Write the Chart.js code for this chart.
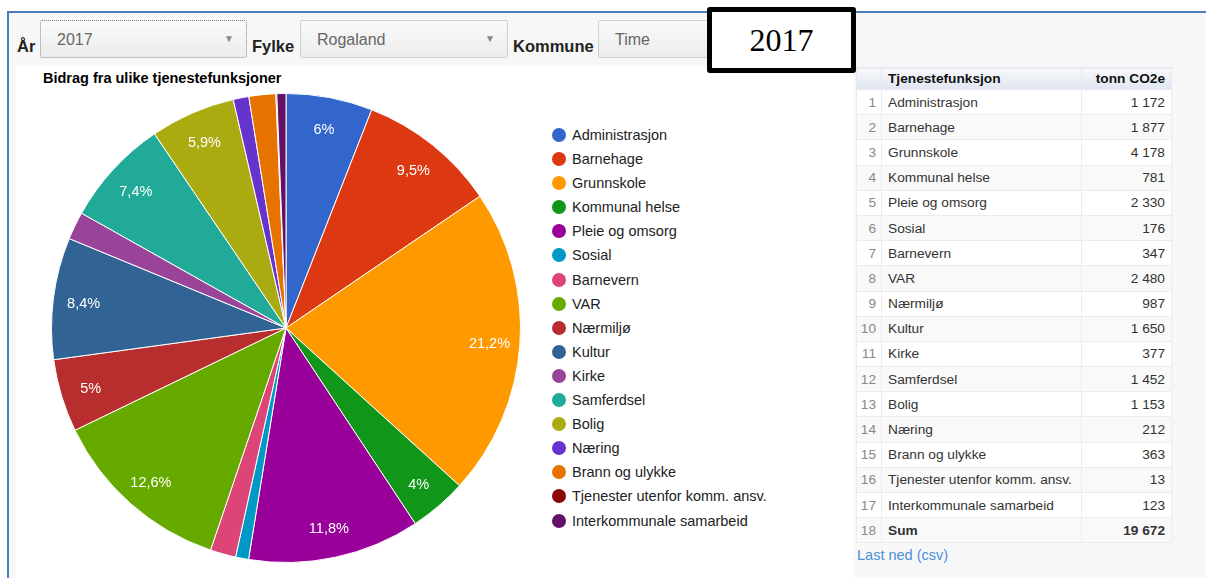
<!DOCTYPE html>
<html>
<head>
<meta charset="utf-8">
<script src="https://cdn.jsdelivr.net/npm/chart.js@4"></script>
<style>
    body {
        margin: 0;
        width: 1206px;
        height: 578px;
        overflow: hidden;
        background: #fff;
        position: relative;
        font-family: Arial, "Liberation Sans", sans-serif;
    }
    .abs { position: absolute; }
    .frame {
        left: 7px; top: 11px; width: 1197px; height: 565px;
        border-top: 2px solid #4a7ebb;
        border-left: 2px solid #4a7ebb;
        background: #f7f7f7;
    }
    .panel { left: 16px; top: 66px; width: 838px; height: 512px; background: #fff; }
    .lbl { font-weight: bold; font-size: 16.5px; color: #222; top: 37px; }
    .dd {
        top: 20px; height: 38px; box-sizing: border-box;
        border: 1px solid #d0d0d0; border-radius: 2px;
        background: linear-gradient(#fafafa, #ececec);
        color: #666; font-size: 16px; line-height: 38px; padding-left: 16px;
    }
    .dd.focus { border: 1px dotted #888; }
    .dd .arr { position: absolute; right: 12px; top: 0; font-size: 10px; color: #888; line-height: 36px; }
    .yearbox {
        left: 707px; top: 7px; width: 149px; height: 66px; box-sizing: border-box;
        border: 5px solid #000; border-radius: 3px; background: #fff;
        font-family: "Liberation Serif", "Times New Roman", serif; font-size: 32px;
        text-align: center; line-height: 56px; color: #000;
    }
    .title { left: 43px; top: 70px; font-weight: bold; font-size: 14.5px; color: #000; }
    #pie { left: 50px; top: 92px; }
    .legend { left: 552px; top: 123px; font-size: 14.5px; color: #222; }
    .legend .item { height: 24.1px; line-height: 24px; white-space: nowrap; }
    .legend .dot { display: inline-block; width: 14px; height: 14px; border-radius: 50%; vertical-align: -2px; margin-right: 6px; }
    table.tbl {
        left: 856px; top: 67px; border-collapse: collapse; table-layout: fixed;
        font-size: 13.7px; color: #333; background: #fff;
    }
    .tbl td, .tbl th { padding: 0 6px; border: 1px solid #ececec; white-space: nowrap; overflow: hidden; }
    .tbl td { height: 24.2px; }
    .tbl th { height: 21px; font-weight: bold; color: #111; background: linear-gradient(#f8f9fc, #dfe5f1); border-color: #e6e9ef; }
    .tbl th.name, .tbl td.name { text-align: left; }
    .tbl th.val, .tbl td.val { text-align: right; }
    .tbl td.num { text-align: right; color: #888; padding: 0 5px 0 0; }
    .tbl tr.alt td { background: #f9f9f9; }
    .tbl tr.sum td { font-weight: bold; }
    .link { left: 857px; top: 547px; font-size: 14.5px; color: #4d90d6; }
</style>
</head>
<body>
<div class="abs frame"></div>
<div class="abs panel"></div>

<div class="abs lbl" style="left:17px">År</div>
<div class="abs dd focus" style="left:40px;width:207px">2017<span class="arr">▼</span></div>
<div class="abs lbl" style="left:252px">Fylke</div>
<div class="abs dd" style="left:300px;width:208px">Rogaland<span class="arr">▼</span></div>
<div class="abs lbl" style="left:513px">Kommune</div>
<div class="abs dd" style="left:598px;width:200px">Time<span class="arr">▼</span></div>
<div class="abs yearbox">2017</div>

<div class="abs title">Bidrag fra ulike tjenestefunksjoner</div>
<canvas id="pie" class="abs" width="472" height="472"></canvas>
<div id="legend" class="abs legend"></div>

<table id="tbl" class="abs tbl">
    <colgroup><col style="width:25px"><col style="width:200px"><col style="width:90px"></colgroup>
    <thead><tr><th></th><th class="name">Tjenestefunksjon</th><th class="val">tonn CO2e</th></tr></thead>
    <tbody></tbody>
</table>
<div class="abs link">Last ned (csv)</div>

<script>
// Tjenestefunksjoner (same order in pie, legend and table)
const labels = [
    "Administrasjon", "Barnehage", "Grunnskole", "Kommunal helse", "Pleie og omsorg",
    "Sosial", "Barnevern", "VAR", "Nærmiljø", "Kultur", "Kirke", "Samferdsel",
    "Bolig", "Næring", "Brann og ulykke", "Tjenester utenfor komm. ansv.",
    "Interkommunale samarbeid"
];

// tonn CO2e
const values = [1172, 1877, 4178, 781, 2330, 176, 347, 2480, 987, 1650, 377, 1452, 1153, 212, 363, 13, 123];

// Sum as shown in the table
const sumLabel = "Sum";
const sumValue = 19672;

const colors = [
    "#3366cc", "#dc3912", "#ff9900", "#109618", "#990099", "#0099c6", "#dd4477",
    "#66aa00", "#b82e2e", "#316395", "#994499", "#22aa99", "#aaaa11", "#6633cc",
    "#e67300", "#8b0707", "#651067"
];

// "1172" -> "1 172"
function fmtNumber(n) {
    return String(n).replace(/\B(?=(\d{3})+(?!\d))/g, " ");
}

// 5.96 -> "6%", 9.54 -> "9,5%"
function fmtPercent(p) {
    return p.toFixed(1).replace(/\.0$/, "").replace(".", ",") + "%";
}

/* -------------------------------
   Legend
---------------------------------*/
const legend = document.getElementById("legend");
labels.forEach((name, i) => {
    const item = document.createElement("div");
    item.className = "item";
    item.innerHTML = `<span class="dot" style="background:${colors[i]}"></span>${name}`;
    legend.appendChild(item);
});

/* -------------------------------
   Table
---------------------------------*/
const tbody = document.querySelector("#tbl tbody");
labels.forEach((name, i) => {
    const tr = document.createElement("tr");
    if (i % 2 === 1) tr.className = "alt";
    tr.innerHTML = `<td class="num">${i + 1}</td><td class="name">${name}</td><td class="val">${fmtNumber(values[i])}</td>`;
    tbody.appendChild(tr);
});
const sumRow = document.createElement("tr");
sumRow.className = "sum" + (labels.length % 2 === 1 ? " alt" : "");
sumRow.innerHTML = `<td class="num" style="font-weight:normal">${labels.length + 1}</td><td class="name">${sumLabel}</td><td class="val">${fmtNumber(sumValue)}</td>`;
tbody.appendChild(sumRow);

/* -------------------------------
   Pie chart with percent labels in slices
---------------------------------*/
const percentLabels = {
    id: "percentLabels",
    afterDatasetsDraw(chart) {
        const ctx = chart.ctx;
        const meta = chart.getDatasetMeta(0);
        const total = values.reduce((a, b) => a + b, 0);
        ctx.save();
        ctx.font = '14.5px Arial, "Liberation Sans", sans-serif';
        ctx.fillStyle = "#fff";
        ctx.textAlign = "center";
        ctx.textBaseline = "middle";
        meta.data.forEach((arc, i) => {
            const pct = values[i] / total * 100;
            if (pct < 3) return; // small slices get no label
            const p = arc.getProps(["x", "y", "startAngle", "endAngle", "outerRadius"], true);
            const mid = (p.startAngle + p.endAngle) / 2;
            const r = p.outerRadius * 0.87;
            ctx.fillText(fmtPercent(pct), p.x + Math.cos(mid) * r, p.y + Math.sin(mid) * r + 2);
        });
        ctx.restore();
    }
};

new Chart(document.getElementById("pie").getContext("2d"), {
    type: "pie",
    data: {
        labels,
        datasets: [{
            data: values,
            backgroundColor: colors,
            borderColor: "#fff",
            borderWidth: 1
        }]
    },
    options: {
        responsive: false,
        animation: false,
        layout: { padding: 1 },
        plugins: {
            legend: { display: false },
            tooltip: { enabled: false }
        }
    },
    plugins: [percentLabels]
});
</script>
</body>
</html>
